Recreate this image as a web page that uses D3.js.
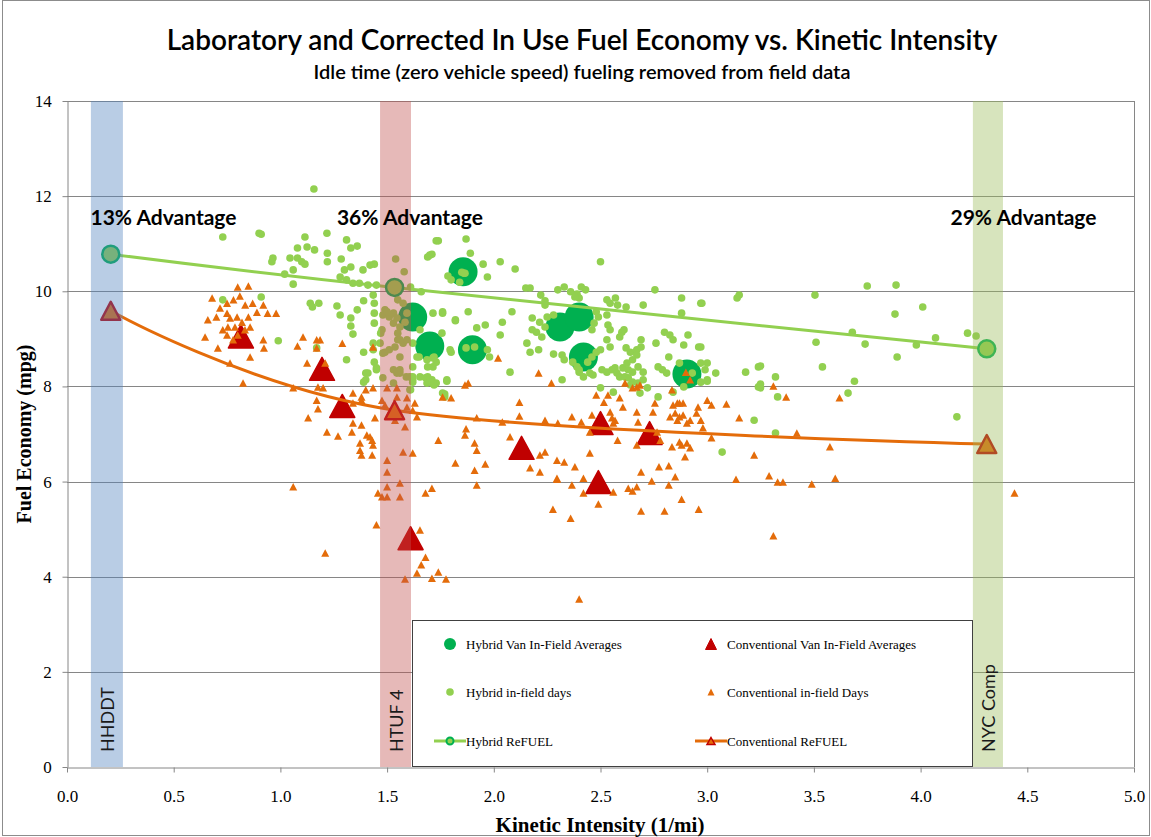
<!DOCTYPE html>
<html>
<head>
<meta charset="utf-8">
<script src="https://cdn.jsdelivr.net/npm/d3@7"></script>
<style>
  body { margin: 0; background: #fff; }
  svg { display: block; }
</style>
</head>
<body>
<div id="chart"></div>
<script>
// Chart text
let chartTitle = "Laboratory and Corrected In Use Fuel Economy vs. Kinetic Intensity";
let chartSubtitle = "Idle time (zero vehicle speed) fueling removed from field data";
let xTitle = "Kinetic Intensity (1/mi)";
let yTitle = "Fuel Economy (mpg)";
let xTicks = [0, 0.5, 1, 1.5, 2, 2.5, 3, 3.5, 4, 4.5, 5];
let yTicks = [0, 2, 4, 6, 8, 10, 12, 14];

// Drive cycle bands [name, start KI, end KI]
let bandNames = ["HHDDT", "HTUF 4", "NYC Comp"];
let bandStart = [0.112, 1.467, 4.245];
let bandEnd = [0.262, 1.612, 4.386];

// Advantage labels
let advLabels = ["13% Advantage", "36% Advantage", "29% Advantage"];
let advX = [0.11, 1.265, 4.14];
let advY = [11.4, 11.4, 11.4];

// ReFUEL lab results (KI, mpg)
let hybridRefuel = [[0.205, 10.78], [1.535, 10.08], [4.31, 8.79]];
let convRefuel = [[0.205, 9.59], [1.535, 7.50], [4.31, 6.79]];

// In-field averages per van (KI, mpg)
let hybridAvg = [[1.62, 9.46], [1.70, 8.85], [1.856, 10.41], [1.90, 8.77], [2.31, 9.25], [2.40, 9.46], [2.42, 8.62], [2.905, 8.26]];
let convAvg = [[0.815, 9.05], [1.195, 8.37], [1.29, 7.59], [1.61, 4.81], [2.13, 6.71], [2.50, 7.23], [2.49, 5.99], [2.73, 7.02]];

// Hybrid in-field days (KI, mpg)
let hybridDays = [
  [0.73,11.14],[0.90,11.22],[0.91,11.20],[1.157,12.15],[1.115,11.14],[1.218,11.22],[1.31,11.08],
  [1.08,10.91],[1.125,10.93],[1.16,10.87],[1.33,10.91],[1.36,10.95],
  [0.965,10.70],[0.96,10.62],[1.045,10.70],[1.08,10.70],[1.10,10.62],[1.115,10.57],
  [1.22,10.80],[1.22,10.62],[1.285,10.68],[1.02,10.36],[1.06,10.45],[1.06,10.15],
  [1.30,10.45],[1.33,10.51],[1.28,10.30],[1.31,10.24],[1.34,10.17],[1.387,10.45],[1.42,10.55],[1.44,10.57],
  [1.37,10.17],[1.41,10.13],[1.45,10.13],[1.54,10.68],[1.58,10.41],[1.61,10.09],
  [0.73,9.82],[0.91,9.88],[1.14,9.75],[1.18,9.75],[1.15,9.67],
  [1.265,9.69],[1.28,9.50],[1.33,9.44],[1.33,9.27],[1.39,9.80],[1.36,9.61],
  [1.435,9.92],[1.44,9.75],[1.44,9.54],[1.44,9.33],[1.47,9.12],
  [1.49,9.61],[1.51,9.46],[1.53,9.33],[1.55,9.12],[1.575,9.75],
  [1.715,9.54],[1.70,10.76],[1.73,11.06],
  [1.34,9.10],[0.99,8.96],[1.31,8.56],[1.39,8.72],
  [1.435,8.91],[1.44,8.51],[1.45,8.35],[1.40,8.14],[1.41,8.28],
  [1.49,8.72],[1.53,8.35],[1.53,8.07],[1.56,8.28],[1.59,8.20],[1.61,7.93],
  [1.55,8.98],[1.575,8.91],[1.56,8.62],[1.65,8.62],[1.69,8.41],[1.71,8.14],[1.73,8.07],[1.62,8.20],
  [1.74,11.06],[1.87,11.10],[1.69,10.72],[1.71,10.78],[1.89,10.80],[1.95,10.57],[2.03,10.62],[2.10,10.47],[2.50,10.62],
  [1.785,10.32],[1.80,10.24],[1.84,10.19],[1.865,10.38],[1.97,10.30],[1.66,9.99],
  [2.15,10.07],[2.17,10.07],[2.22,9.92],[2.24,9.80],[2.24,9.71],
  [2.30,10.03],[2.33,10.09],[2.36,9.99],[2.39,9.94],[2.41,10.09],[2.43,10.03],[2.40,9.86],[2.38,9.88],
  [2.53,9.82],[2.545,9.75],[2.57,9.86],[2.58,9.71],[2.62,9.67],[2.70,9.71],[2.755,10.03],[2.88,9.86],[2.97,9.75],[2.88,9.54],
  [3.14,9.86],[3.15,9.92],
  [1.76,9.54],[1.82,9.38],[1.88,9.57],[1.92,9.23],[1.96,9.29],[2.04,9.35],[2.085,9.57],[2.03,9.08],
  [2.18,9.44],[2.215,9.35],[2.24,9.25],[2.25,9.46],[2.28,9.50],
  [2.18,9.19],[2.20,9.14],[2.155,8.91],[2.17,8.72],[2.21,8.77],[2.225,9.04],
  [2.28,8.68],[2.32,8.66],[2.32,8.14],
  [2.48,9.57],[2.49,9.46],[2.47,9.33],[2.46,9.19],[2.53,9.50],[2.535,9.29],[2.545,9.19],
  [2.60,9.14],[2.61,9.19],[2.59,9.04],[2.53,8.98],[2.545,8.83],
  [2.62,8.81],[2.64,8.72],[2.67,8.77],[2.67,8.66],[2.65,8.56],[2.69,8.98],[2.69,8.83],[2.76,8.91],[2.80,9.14],[2.825,9.08],[2.84,8.98],[2.89,8.87],[2.91,9.08],[2.96,8.83],
  [2.33,8.56],[2.37,8.51],[2.39,8.41],[2.40,8.35],[2.44,8.51],[2.46,8.62],[2.48,8.72],[2.50,8.77],
  [2.40,8.30],[2.42,8.20],[2.45,8.28],[2.465,8.24],
  [2.507,8.35],[2.53,8.30],[2.554,8.35],[2.568,8.39],[2.577,8.28],[2.59,8.20],[2.605,8.39],[2.624,8.49],[2.63,8.35],[2.65,8.30],[2.676,8.41],[2.70,8.30],[2.70,8.14],[2.676,8.07],[2.65,8.09],[2.64,8.03],[2.63,8.18],[2.615,8.20],
  [2.50,7.97],[2.56,7.88],[2.685,7.86],[2.72,7.97],[2.77,7.78],[2.84,7.88],[2.89,7.99],[2.97,8.09],[3.00,8.14],[3.04,8.28],[3.18,8.30],[3.24,8.41],[3.24,7.99],[3.22,7.29],[3.07,6.62],
  [2.77,8.41],[2.79,8.35],[2.81,8.28],[2.82,8.62],[2.87,8.49],[2.93,8.28],[2.97,8.49],[3.00,8.49],[2.99,8.35],
  [1.80,8.72],[1.78,8.11],[1.77,7.84],[1.77,7.78],
  [1.715,8.60],[1.73,8.51],[1.69,8.20],[1.71,8.07],
  [1.62,8.91],[1.62,8.41],[1.62,8.14],
  [2.076,8.30],[1.87,8.81],[1.91,8.83],[1.97,8.77],[1.98,8.62],[1.85,10.40],[1.86,10.38],
  [2.975,9.75],[3.505,9.92],[3.75,10.11],[3.885,10.13],[3.88,9.52],[4.01,9.67],[3.68,9.14],
  [3.51,8.93],[3.74,8.89],[3.98,8.87],[4.07,9.02],[4.22,9.12],[4.26,9.06],[3.89,8.62],
  [2.97,8.83],[3.00,8.11],
  [3.25,8.43],[3.32,8.20],[3.25,8.05],[3.25,7.97],
  [3.54,8.41],[3.69,8.11],[3.66,7.86],[3.33,7.78],[4.17,7.36],[3.32,7.02],
  [1.45,8.39],[1.40,8.28],[1.39,8.09],[1.435,8.77],[1.17,8.81],
  [1.467,8.91],[1.476,9.19],[1.48,9.50],[1.50,9.57],[1.53,9.54],[1.546,9.44],[1.56,9.25],[1.584,9.35],[1.593,9.54],[1.55,9.82],[1.56,8.98],[1.593,8.98],[1.537,8.83],[1.48,8.70],[1.51,8.77],
  [1.48,8.18],[1.546,8.28],[1.56,8.35],[1.607,8.20],[1.607,7.93],[1.62,8.09],[1.654,8.20],[1.68,8.18],[1.687,8.07],[1.70,8.09],[1.72,8.03],[1.78,8.14],[1.76,7.86],
  [1.654,9.19],[1.64,8.62],[1.687,8.56],[1.72,8.62],[1.715,8.41],[1.757,9.12],[1.76,9.57],[1.82,9.40],[1.795,8.77]
];

// Conventional in-field days (KI, mpg)
let convDays = [
  [0.80,10.09],[0.85,10.11],[0.68,9.86],[0.81,9.90],[0.78,9.82],[0.75,9.75],
  [0.835,9.71],[0.87,9.75],[0.89,9.56],[0.94,9.54],[0.98,9.54],[0.92,9.71],
  [0.717,9.65],[0.70,9.46],[0.66,9.40],[0.75,9.54],[0.764,9.44],[0.797,9.46],[0.82,9.35],[0.85,9.46],[0.858,9.25],[0.834,9.19],[0.787,9.25],[0.754,9.25],[0.73,9.19],[0.75,9.08],[0.80,9.08],[0.778,8.98],
  [0.647,9.04],[0.707,8.81],[0.92,8.98],[0.923,8.81],[0.858,8.62],[0.825,8.07],[0.764,8.49],
  [1.106,9.04],[1.17,8.98],[1.186,8.98],[1.29,8.91],[1.434,8.83],[1.17,8.81],[1.08,8.85],
  [1.125,8.49],[1.21,8.49],[1.176,7.99],[1.20,7.97],[1.06,7.97],
  [1.17,7.71],[1.176,7.53],[1.13,7.34],[1.218,7.04],[1.27,6.96],[1.335,7.04],[1.34,7.65],[1.38,7.71],[1.40,7.93],[1.434,7.97],[1.34,7.23],[1.38,7.19],
  [1.373,6.81],[1.373,6.66],[1.38,6.56],[1.43,6.87],[1.434,6.77],[1.43,6.56],[1.405,6.98],[1.443,7.34],
  [1.476,7.71],[1.49,7.61],[1.546,7.78],[1.593,7.57],[1.62,7.50],[1.64,7.36],[1.50,7.97],[1.546,7.97],[1.593,7.76],[1.63,7.65],
  [1.50,6.45],[1.575,6.62],[1.62,6.60],
  [1.34,7.86],[1.38,7.78],[1.42,6.94],[1.50,6.20],[1.584,7.15],[1.51,7.44],[1.537,7.29],
  [1.50,5.68],[1.56,5.68],[1.56,5.97],[1.476,5.68],[1.457,5.76],
  [1.68,5.76],[1.71,5.86],[1.82,6.39],[1.74,6.87],[1.865,6.98],[1.92,7.34],[1.92,6.66],[1.91,6.24],[1.92,5.93],
  [1.06,5.89],[1.865,8.03],[1.76,7.78],[1.80,7.76],
  [1.21,4.50],[1.45,5.09],[1.50,5.89],
  [1.654,4.98],[1.68,4.41],[1.66,4.25],[1.64,4.08],[1.74,4.10],[1.71,3.97],[1.776,3.95],[1.584,3.95],
  [1.87,7.11],[1.91,6.81],[1.96,6.37],[2.076,6.94],[2.12,7.67],[2.12,7.38],[2.216,6.56],[2.24,6.62],[2.17,6.29],[2.216,6.20],[2.277,5.42],[2.296,6.07],[2.296,6.45],
  [2.27,8.07],[2.48,7.82],[2.535,7.82],[2.516,7.67],[2.59,7.76],[2.605,7.57],[2.65,7.97],[2.67,7.99],[2.685,8.03],[2.615,8.07],
  [2.755,7.65],[2.746,7.46],[2.835,7.93],[2.84,7.61],[2.86,7.65],[2.87,7.65],[2.887,7.65],[2.826,7.36],[2.85,7.44],[2.86,7.29],[2.87,7.36],[2.887,7.40],[2.95,7.44],[2.957,7.57],[3.00,7.71],[3.02,7.61],[3.09,7.63],[2.97,7.29],[2.98,7.13],[2.905,7.23],[2.92,7.29],
  [2.24,7.29],[2.30,7.23],[2.366,7.36],[2.41,7.25],[2.46,7.40],[2.45,7.04],[2.545,7.46],[2.554,7.34],[2.568,7.29],[2.56,7.23],[2.67,7.46],[2.676,7.25],[2.765,7.04],[2.78,6.87],[2.835,6.73],[2.87,6.83],[2.88,6.77],[2.905,6.81],[2.92,6.71],[2.896,6.52],[3.02,6.92],[3.15,7.34],[3.22,6.56],[2.58,6.87],[2.67,6.77],[2.45,6.60],
  [2.33,6.41],[2.38,6.31],[2.296,6.05],[2.366,5.93],[2.42,6.07],[2.42,5.76],[2.49,5.53],[2.56,5.78],[2.63,5.86],[2.65,5.80],[2.67,5.89],[2.69,6.20],[2.74,6.01],[2.774,6.31],[2.82,6.33],[2.85,6.10],[2.82,5.93],[2.88,5.63],[2.80,5.38],[2.69,5.38],[2.96,5.42],[2.36,5.23],[3.135,6.05],[3.29,6.12],[3.33,5.99],[3.31,4.86],[2.40,3.53],
  [3.31,8.01],[3.37,7.78],[3.62,7.76],[3.42,7.02],[3.575,6.73],[3.355,5.99],[3.49,5.95],[3.60,6.07],[4.44,5.76],
  [2.02,8.60],[2.21,8.28],[1.88,8.07],[2.90,8.30],[2.92,8.14],[2.04,7.25]
];

// Legend entries
let legendLabels = ["Hybrid Van In-Field Averages", "Conventional Van In-Field Averages",
  "Hybrid in-field days", "Conventional in-field Days", "Hybrid ReFUEL", "Conventional ReFUEL"];

let width = 1151, height = 837;
let margin = { top: 101, right: 17, bottom: 70, left: 67 };

let svg = d3.select("#chart").append("svg")
  .attr("width", width)
  .attr("height", height);

// outer frame
svg.append("rect")
  .attr("x", 2.5).attr("y", 0.5)
  .attr("width", width - 4).attr("height", height - 2)
  .attr("fill", "none").attr("stroke", "#8c8c8c");

let x = d3.scaleLinear().domain([0, 5]).range([margin.left, width - margin.right]);
let y = d3.scaleLinear().domain([0, 14]).range([height - margin.bottom, margin.top]);

let gridColor = "#868686";

// gridlines
svg.append("g").selectAll("line")
  .data(yTicks.filter(d => d > 0))
  .enter().append("line")
  .attr("x1", x(0)).attr("x2", x(5))
  .attr("y1", d => Math.round(y(d)) + 0.5).attr("y2", d => Math.round(y(d)) + 0.5)
  .attr("stroke", gridColor);

// right border of plot area
svg.append("line")
  .attr("x1", Math.round(x(5)) + 0.5).attr("x2", Math.round(x(5)) + 0.5)
  .attr("y1", y(14)).attr("y2", y(0))
  .attr("stroke", gridColor);

// axes
let xAxis = d3.axisBottom(x).tickValues(xTicks).tickFormat(d3.format(".1f")).tickSize(5).tickSizeOuter(0);
let yAxis = d3.axisLeft(y).tickValues(yTicks).tickFormat(d3.format("d")).tickSize(5).tickSizeOuter(0);

let gx = svg.append("g")
  .attr("transform", "translate(0," + (Math.round(y(0)) + 0.5) + ")")
  .call(xAxis);
let gy = svg.append("g")
  .attr("transform", "translate(" + (Math.round(x(0)) + 0.5) + ",0)")
  .call(yAxis);

[gx, gy].forEach(g => {
  g.select(".domain").attr("stroke", gridColor);
  g.selectAll(".tick line").attr("stroke", gridColor);
  g.selectAll(".tick text")
    .attr("font-family", "'Liberation Serif', 'Times New Roman', serif")
    .attr("font-size", 17)
    .attr("fill", "#000");
});
gx.selectAll(".tick text").attr("dy", "1.55em");
gy.selectAll(".tick text").attr("dx", "-0.45em");

// axis titles
svg.append("text")
  .attr("x", 600).attr("y", 832)
  .attr("text-anchor", "middle")
  .attr("font-family", "'Liberation Serif', 'Times New Roman', serif")
  .attr("font-weight", "bold")
  .attr("font-size", 21)
  .text(xTitle);

svg.append("text")
  .attr("transform", "translate(31," + 434 + ") rotate(-90)")
  .attr("text-anchor", "middle")
  .attr("font-family", "'Liberation Serif', 'Times New Roman', serif")
  .attr("font-weight", "bold")
  .attr("font-size", 20)
  .text(yTitle);

// titles
svg.append("text")
  .attr("x", 582).attr("y", 50)
  .attr("text-anchor", "middle")
  .attr("font-family", "Lato, 'Open Sans', sans-serif")
  .attr("font-weight", 600)
  .attr("font-size", 28)
  .text(chartTitle);

svg.append("text")
  .attr("x", 582).attr("y", 79)
  .attr("text-anchor", "middle")
  .attr("font-family", "Lato, 'Open Sans', sans-serif")
  .attr("font-weight", 600)
  .attr("font-size", 20)
  .text(chartSubtitle);

// triangle path with equal width and height, centred on its box
function triPath(w, h) {
  return "M0," + (-h / 2) + "L" + (w / 2) + "," + (h / 2) + "L" + (-w / 2) + "," + (h / 2) + "Z";
}

let plot = svg.append("g");

// van averages (drawn first, below the daily points)
plot.selectAll(".havg")
  .data(hybridAvg)
  .enter().append("circle")
  .attr("class", "havg")
  .attr("cx", d => x(d[0])).attr("cy", d => y(d[1]))
  .attr("r", 14.5)
  .attr("fill", "#00b050");

plot.selectAll(".cavg")
  .data(convAvg)
  .enter().append("path")
  .attr("class", "cavg")
  .attr("transform", d => "translate(" + x(d[0]) + "," + y(d[1]) + ")")
  .attr("d", triPath(25, 23))
  .attr("fill", "#c00000")
  .attr("stroke", "#c00000")
  .attr("stroke-width", 1.5)
  .attr("stroke-linejoin", "round");

// daily points
plot.selectAll(".hday")
  .data(hybridDays)
  .enter().append("circle")
  .attr("class", "hday")
  .attr("cx", d => x(d[0])).attr("cy", d => y(d[1]))
  .attr("r", 3.8)
  .attr("fill", "#92d050");

plot.selectAll(".cday")
  .data(convDays)
  .enter().append("path")
  .attr("class", "cday")
  .attr("transform", d => "translate(" + x(d[0]) + "," + y(d[1]) + ")")
  .attr("d", triPath(8, 7.5))
  .attr("fill", "#e46c0a");

// ReFUEL smoothed lines
let line = d3.line()
  .x(d => x(d[0])).y(d => y(d[1]))
  .curve(d3.curveCardinal.tension(0));

plot.append("path")
  .datum(hybridRefuel)
  .attr("d", line)
  .attr("fill", "none")
  .attr("stroke", "#92d050")
  .attr("stroke-width", 3);

plot.append("path")
  .datum(convRefuel)
  .attr("d", line)
  .attr("fill", "none")
  .attr("stroke", "#e46c0a")
  .attr("stroke-width", 3);

plot.selectAll(".href")
  .data(hybridRefuel)
  .enter().append("circle")
  .attr("class", "href")
  .attr("cx", d => x(d[0])).attr("cy", d => y(d[1]))
  .attr("r", 8.5)
  .attr("fill", "#92d050")
  .attr("stroke", "#00b050")
  .attr("stroke-width", 2.5);

plot.selectAll(".cref")
  .data(convRefuel)
  .enter().append("path")
  .attr("class", "cref")
  .attr("transform", d => "translate(" + x(d[0]) + "," + y(d[1]) + ")")
  .attr("d", triPath(19, 18))
  .attr("fill", "#e46c0a")
  .attr("stroke", "#c00000")
  .attr("stroke-width", 2.5)
  .attr("stroke-linejoin", "round");

// translucent drive cycle bands on top
let bandColors = ["#4f81bd", "#c0504d", "#9bbb59"];
svg.append("g").selectAll("rect")
  .data(bandNames)
  .enter().append("rect")
  .attr("x", (d, i) => x(bandStart[i]))
  .attr("width", (d, i) => x(bandEnd[i]) - x(bandStart[i]))
  .attr("y", y(14))
  .attr("height", y(0) - y(14))
  .attr("fill", (d, i) => bandColors[i])
  .attr("opacity", 0.4);

svg.append("g").selectAll("text")
  .data(bandNames)
  .enter().append("text")
  .attr("transform", (d, i) => "translate(" + ((x(bandStart[i]) + x(bandEnd[i])) / 2 + 7) + ",752) rotate(-90)")
  .attr("font-family", "Lato, 'Open Sans', sans-serif")
  .attr("font-size", 18)
  .attr("fill", "#1a1a1a")
  .text(d => d);

// advantage labels
svg.append("g").selectAll("text")
  .data(advLabels)
  .enter().append("text")
  .attr("x", (d, i) => x(advX[i]))
  .attr("y", (d, i) => y(advY[i]))
  .attr("font-family", "Lato, 'Open Sans', sans-serif")
  .attr("font-weight", "bold")
  .attr("font-size", 21)
  .attr("fill", "#000")
  .text(d => d);

// legend
let legend = svg.append("g");
legend.append("rect")
  .attr("x", 412.5).attr("y", 620.5)
  .attr("width", 560).attr("height", 146)
  .attr("fill", "#fff")
  .attr("stroke", "#404040");

let colX = [450, 711];
let rowY = [644, 692, 741];

legendLabels.forEach((lab, i) => {
  let cx = colX[i % 2], cy = rowY[Math.floor(i / 2)];
  legend.append("text")
    .attr("x", cx + 16).attr("y", cy + 4.5)
    .attr("font-family", "'Liberation Serif', 'Times New Roman', serif")
    .attr("font-size", 13)
    .attr("fill", "#000")
    .text(lab);
});

legend.append("circle").attr("cx", colX[0]).attr("cy", rowY[0]).attr("r", 6).attr("fill", "#00b050");
legend.append("path").attr("transform", "translate(" + colX[1] + "," + rowY[0] + ")")
  .attr("d", triPath(11, 11)).attr("fill", "#c00000").attr("stroke", "#c00000").attr("stroke-linejoin", "round");
legend.append("circle").attr("cx", colX[0]).attr("cy", rowY[1]).attr("r", 3.8).attr("fill", "#92d050");
legend.append("path").attr("transform", "translate(" + colX[1] + "," + rowY[1] + ")")
  .attr("d", triPath(7, 7)).attr("fill", "#e46c0a");

legend.append("line").attr("x1", colX[0] - 16).attr("x2", colX[0] + 16)
  .attr("y1", rowY[2]).attr("y2", rowY[2]).attr("stroke", "#92d050").attr("stroke-width", 3);
legend.append("circle").attr("cx", colX[0]).attr("cy", rowY[2]).attr("r", 3.5)
  .attr("fill", "#92d050").attr("stroke", "#00b050").attr("stroke-width", 2);
legend.append("line").attr("x1", colX[1] - 16).attr("x2", colX[1] + 16)
  .attr("y1", rowY[2]).attr("y2", rowY[2]).attr("stroke", "#e46c0a").attr("stroke-width", 3);
legend.append("path").attr("transform", "translate(" + colX[1] + "," + rowY[2] + ")")
  .attr("d", triPath(8, 7)).attr("fill", "#e46c0a").attr("stroke", "#c00000").attr("stroke-width", 1.5);
</script>
</body>
</html>
